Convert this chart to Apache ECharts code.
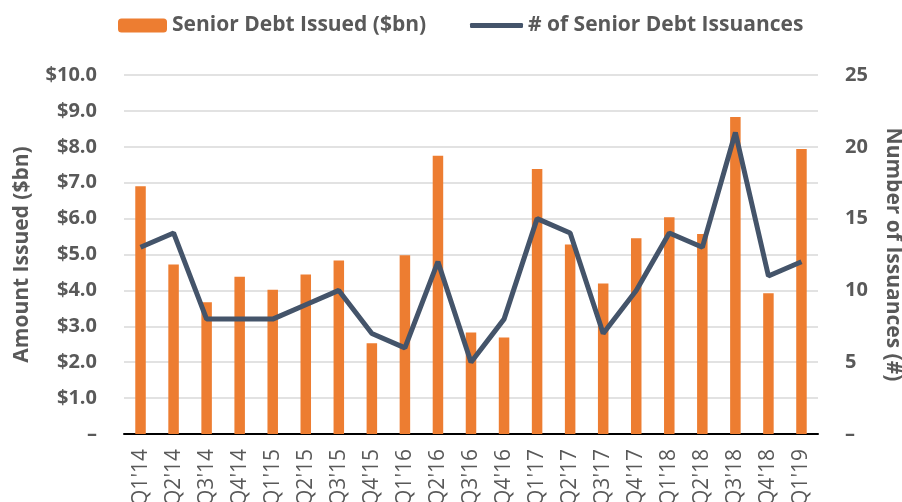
<!DOCTYPE html>
<html>
<head>
<meta charset="utf-8">
<script src="https://cdn.jsdelivr.net/npm/echarts@6/dist/echarts.min.js"></script>
<style>
html,body{margin:0;padding:0;background:#fff;}
#c{width:902px;height:502px;}
</style>
</head>
<body>
<div id="c"></div>
<script>
const categories = ["Q1'14","Q2'14","Q3'14","Q4'14","Q1'15","Q2'15","Q3'15","Q4'15","Q1'16","Q2'16","Q3'16","Q4'16","Q1'17","Q2'17","Q3'17","Q4'17","Q1'18","Q2'18","Q3'18","Q4'18","Q1'19"];
const amountIssued = [6.90,4.72,3.67,4.38,4.02,4.44,4.83,2.53,4.98,7.75,2.83,2.69,7.38,5.28,4.19,5.45,6.04,5.57,8.83,3.92,7.94];
const issuanceCount = [13,14,8,8,8,9,10,7,6,12,5,8,15,14,7,10,14,13,21,11,12];
const barName = 'Senior Debt Issued ($bn)';
const lineName = '# of Senior Debt Issuances';
const leftAxisName = 'Amount Issued ($bn)';
const rightAxisName = 'Number of Issuances (#)';

const FONT = '"Open Sans", sans-serif';
const GREY = '#595959';
const chart = echarts.init(document.getElementById('c'), null, {renderer:'canvas'});
chart.setOption({
  animation: false,
  backgroundColor: '#fff',
  legend: [{
    data: [barName],
    left: 118, top: 15, padding: 0,
    itemWidth: 49, itemHeight: 14,
    textStyle: {fontFamily: FONT, fontWeight: 'bold', fontSize: 21, color: GREY}
  },{
    data: [{name: lineName, icon: 'roundRect'}],
    left: 470, top: 15, padding: 0,
    itemWidth: 53, itemHeight: 5,
    textStyle: {fontFamily: FONT, fontWeight: 'bold', fontSize: 21, color: GREY}
  }],
  grid: {left: 124, right: 84, top: 75, bottom: 68, containLabel: false, outerBoundsMode: 'none'},
  xAxis: {
    type: 'category', data: categories,
    axisLine: {lineStyle: {color: '#000', width: 2}},
    axisTick: {show: false},
    axisLabel: {rotate: 90, interval: 0, margin: 15, fontFamily: FONT, fontSize: 21, color: GREY}
  },
  yAxis: [{
    type: 'value', min: 0, max: 10, interval: 1,
    name: leftAxisName, nameLocation: 'middle', nameRotate: 90, nameGap: 91,
    nameTextStyle: {fontFamily: FONT, fontWeight: 'bold', fontSize: 21, color: GREY},
    axisLine: {show: false}, axisTick: {show: false},
    splitLine: {lineStyle: {color: '#D9D9D9', width: 1.5}},
    axisLabel: {margin: 27, fontFamily: FONT, fontWeight: 'bold', fontSize: 20, color: GREY,
      formatter: v => v === 0 ? '–' : '$' + v.toFixed(1)}
  },{
    type: 'value', min: 0, max: 25, interval: 5,
    name: rightAxisName, nameLocation: 'middle', nameRotate: -90, nameGap: 64,
    nameTextStyle: {fontFamily: FONT, fontWeight: 'bold', fontSize: 21, color: GREY},
    axisLine: {show: false}, axisTick: {show: false},
    splitLine: {show: false},
    axisLabel: {margin: 27, fontFamily: FONT, fontWeight: 'bold', fontSize: 20, color: GREY,
      formatter: v => v === 0 ? '–' : String(v)}
  }],
  series: [{
    name: barName, type: 'bar', data: amountIssued, yAxisIndex: 0,
    barWidth: 10.5,
    itemStyle: {color: '#ED7D31'}
  },{
    name: lineName, type: 'line', data: issuanceCount, yAxisIndex: 1,
    symbol: 'none', smooth: false,
    lineStyle: {color: '#44546A', width: 5},
    itemStyle: {color: '#44546A'}
  }]
});
</script>
</body>
</html>
